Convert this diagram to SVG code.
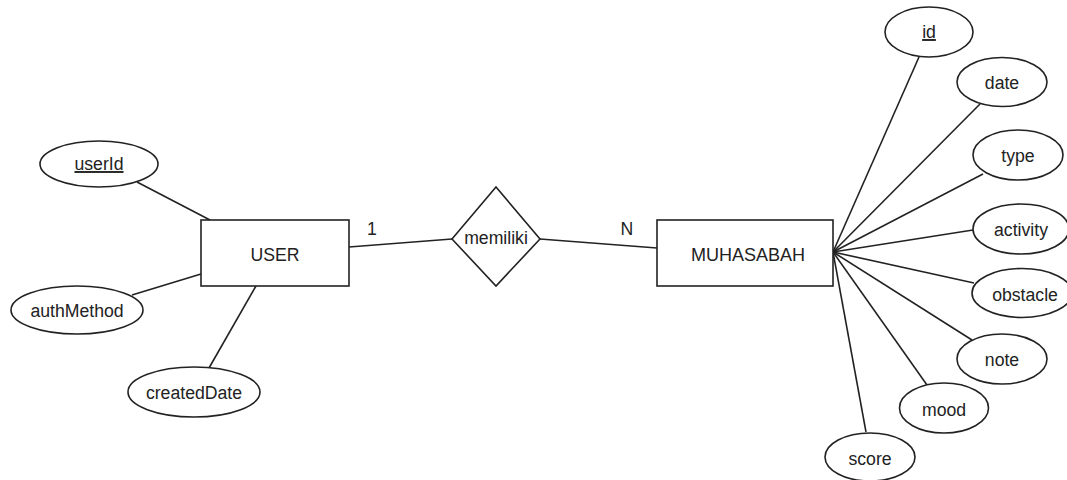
<svg xmlns="http://www.w3.org/2000/svg" width="1067" height="480" viewBox="0 0 1067 480">
<style>
.s{fill:#fff;stroke:#222;stroke-width:1.6}
.c line{stroke:#222;stroke-width:1.6}
text{font-family:"Liberation Sans",Arial,sans-serif;font-size:19px;fill:#222;text-anchor:middle}
.u{text-decoration:underline}
</style>
<rect width="1067" height="480" fill="#fff"/>
<g class="c" id="connectors">
<line x1="137" y1="182" x2="210" y2="220"/>
<line x1="132" y1="295" x2="201" y2="274"/>
<line x1="256" y1="286" x2="209" y2="368"/>
<line x1="349" y1="247" x2="452" y2="239"/>
<line x1="540" y1="239" x2="657" y2="248"/>
<line x1="833" y1="252" x2="919" y2="57"/>
<line x1="833" y1="252" x2="980" y2="104"/>
<line x1="833" y1="252" x2="983" y2="174"/>
<line x1="833" y1="252" x2="973" y2="230"/>
<line x1="833" y1="252" x2="974" y2="283"/>
<line x1="833" y1="252" x2="972" y2="340"/>
<line x1="833" y1="252" x2="927" y2="385"/>
<line x1="833" y1="252" x2="866" y2="432"/>
</g>
<g id="user"><rect class="s" x="201" y="220" width="148" height="66"/><text transform="translate(275,261) scale(0.93,1)">USER</text></g>
<g id="muhasabah"><rect class="s" x="657" y="220" width="176" height="66"/><text transform="translate(748,261) scale(0.95,1)">MUHASABAH</text></g>
<g id="memiliki"><polygon class="s" points="452,239 496,187 540,239 496,286"/><text transform="translate(496,244) scale(0.93,1)">memiliki</text></g>
<g id="card1"><text transform="translate(372,235) scale(0.93,1)">1</text></g>
<g id="cardN"><text transform="translate(627,235) scale(0.93,1)">N</text></g>
<g id="userId"><ellipse class="s" cx="99" cy="164" rx="59" ry="23"/><text class="u" transform="translate(99,170) scale(0.93,1)">userId</text></g>
<g id="authMethod"><ellipse class="s" cx="77" cy="310" rx="66" ry="24"/><text transform="translate(77,317) scale(0.93,1)">authMethod</text></g>
<g id="createdDate"><ellipse class="s" cx="194" cy="392" rx="66" ry="25"/><text transform="translate(194,399) scale(0.93,1)">createdDate</text></g>
<g id="id"><ellipse class="s" cx="929" cy="32" rx="44" ry="25"/><text class="u" transform="translate(929,38) scale(0.93,1)">id</text></g>
<g id="date"><ellipse class="s" cx="1002" cy="82" rx="45" ry="24.5"/><text transform="translate(1002,89) scale(0.93,1)">date</text></g>
<g id="type"><ellipse class="s" cx="1018" cy="155" rx="45" ry="25"/><text transform="translate(1018,162) scale(0.93,1)">type</text></g>
<g id="activity"><ellipse class="s" cx="1021" cy="229" rx="48" ry="25"/><text transform="translate(1021,236) scale(0.93,1)">activity</text></g>
<g id="obstacle"><ellipse class="s" cx="1022" cy="293" rx="50" ry="24.5"/><text transform="translate(1025,301) scale(0.93,1)">obstacle</text></g>
<g id="note"><ellipse class="s" cx="1002" cy="359" rx="45" ry="25"/><text transform="translate(1002,366) scale(0.93,1)">note</text></g>
<g id="mood"><ellipse class="s" cx="944" cy="408" rx="44.5" ry="25"/><text transform="translate(944,416) scale(0.93,1)">mood</text></g>
<g id="score"><ellipse class="s" cx="870" cy="457" rx="45" ry="24"/><text transform="translate(870,465) scale(0.93,1)">score</text></g>
</svg>
